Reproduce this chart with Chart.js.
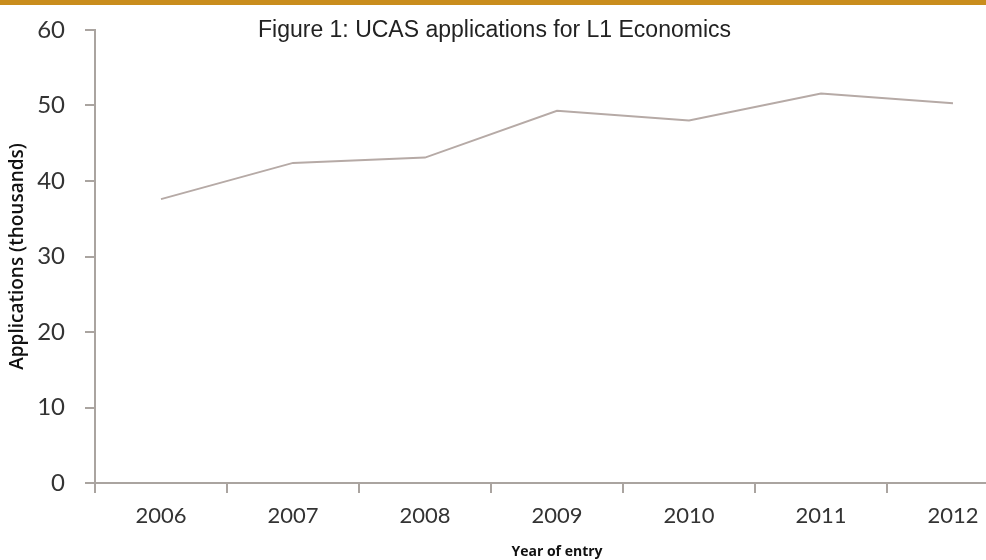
<!DOCTYPE html>
<html lang="en">

<head>
    <meta charset="UTF-8">
    <title>UCAS applications for L1 Economics</title>
    <script src="https://cdn.jsdelivr.net/npm/chart.js@4.4.0/dist/chart.umd.min.js"></script>
    <style>
        html, body {
            margin: 0;
            padding: 0;
            overflow: hidden;
            background: #fff;
        }

        .topbar {
            position: absolute;
            top: 0;
            left: 0;
            width: 986px;
            height: 5px;
            background-color: #c98d1d;
            z-index: 2;
        }

        .heading {
            position: absolute;
            top: 16px;
            left: 258px;
            font-family: "Liberation Sans", Arial, sans-serif;
            font-size: 23px;
            color: #222;
            white-space: nowrap;
            z-index: 2;
        }

        .chart-box {
            position: absolute;
            top: 0;
            left: 0;
            width: 1030px;
            height: 560px;
        }
    </style>
</head>

<body>
    <div class="topbar"></div>
    <div class="heading">Figure 1: UCAS applications for L1 Economics</div>
    <div class="chart-box">
        <canvas id="apps-chart"></canvas>
    </div>

    <script>
        // applications per year of entry, in thousands
        const years = ['2006', '2007', '2008', '2009', '2010', '2011', '2012'];
        const applications = [37.6, 42.4, 43.1, 49.3, 48.0, 51.6, 50.3];
        const yTicks = [0, 10, 20, 30, 40, 50, 60];

        const axisGrey = '#aaa4a0';

        new Chart(document.getElementById('apps-chart'), {
            type: 'line',
            data: {
                labels: years,
                datasets: [{
                    data: applications,
                    borderColor: '#b6aaa6',
                    borderWidth: 2,
                    pointRadius: 0,
                    tension: 0,
                    fill: false
                }]
            },
            options: {
                responsive: true,
                maintainAspectRatio: false,
                animation: false,
                layout: {
                    padding: { top: 30, right: 11, left: 0, bottom: 0 }
                },
                plugins: {
                    legend: { display: false },
                    tooltip: { enabled: false }
                },
                scales: {
                    x: {
                        offset: true,
                        grid: {
                            offset: true,
                            drawOnChartArea: false,
                            drawTicks: true,
                            tickLength: 10,
                            color: axisGrey,
                            lineWidth: 2
                        },
                        border: { color: axisGrey, width: 2 },
                        ticks: {
                            padding: 10,
                            color: '#333',
                            font: { family: 'Lato, "Open Sans", sans-serif', size: 22 },
                            maxRotation: 0
                        },
                        title: {
                            display: true,
                            text: 'Year of entry',
                            color: '#111',
                            font: { family: '"Open Sans", sans-serif', size: 14, weight: 'bold' },
                            padding: { top: 10, bottom: 0 }
                        },
                        afterFit: (scale) => { scale.height = 77; }
                    },
                    y: {
                        min: 0,
                        max: 60,
                        afterBuildTicks: (scale) => {
                            scale.ticks = yTicks.map(v => ({ value: v }));
                        },
                        grid: {
                            drawOnChartArea: false,
                            drawTicks: true,
                            tickLength: 10,
                            color: axisGrey,
                            lineWidth: 2
                        },
                        border: { color: axisGrey, width: 2 },
                        ticks: {
                            padding: 20,
                            color: '#333',
                            font: { family: 'Lato, "Open Sans", sans-serif', size: 24, lineHeight: 0.8 }
                        },
                        title: {
                            display: true,
                            text: 'Applications (thousands)',
                            color: '#111',
                            font: { family: '"Open Sans", sans-serif', size: 19, weight: '600' },
                            padding: { top: 6, bottom: 0 }
                        },
                        afterFit: (scale) => { scale.width = 95; }
                    }
                }
            }
        });
    </script>
</body>

</html>
